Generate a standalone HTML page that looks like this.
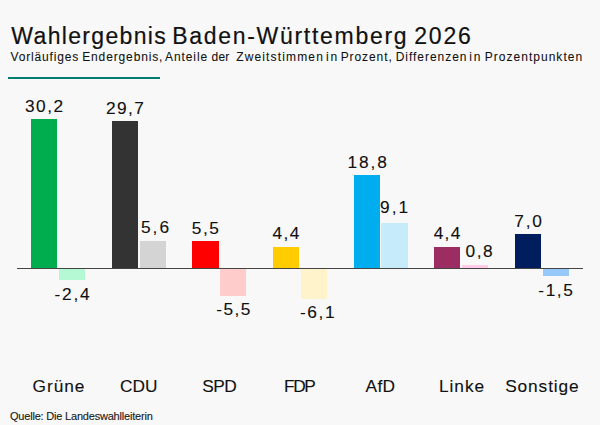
<!DOCTYPE html>
<html><head><meta charset="utf-8"><style>
html,body{margin:0;padding:0;}
body{width:600px;height:425px;background:#f8f8f8;position:relative;overflow:hidden;font-family:"Liberation Sans",sans-serif;color:#111;-webkit-text-stroke:0.12px #111;}
.t{position:absolute;white-space:nowrap;line-height:1;}
.b{position:absolute;}
.v{position:absolute;width:100px;text-align:center;font-size:17.3px;letter-spacing:1.35px;text-indent:1.35px;line-height:1;white-space:nowrap;}
.n{position:absolute;width:120px;text-align:center;font-size:17.3px;letter-spacing:0.7px;text-indent:0.7px;line-height:1;white-space:nowrap;}
.ti{top:24.77px;font-size:23px;-webkit-text-stroke:0.2px #111;}
.su{top:51.06px;font-size:12px;-webkit-text-stroke:0.08px #111;}
#src{left:10px;top:410.70px;font-size:11px;letter-spacing:-0.2px;color:#222;}
#rule{position:absolute;left:8px;top:77px;width:152px;height:2px;background:#007d70;}
#axis{position:absolute;left:17px;top:268px;width:565.5px;height:1px;background:#444;}
</style></head><body>
<div class="t ti" style="left:11.35px;letter-spacing:1.332px">Wahlergebnis</div>
<div class="t ti" style="left:172.20px;letter-spacing:1.706px">Baden-Württemberg</div>
<div class="t ti" style="left:414.25px;letter-spacing:1.833px">2026</div>
<div class="t su" style="left:10.50px;letter-spacing:0.840px">Vorläufiges</div>
<div class="t su" style="left:82.20px;letter-spacing:0.868px">Endergebnis,</div>
<div class="t su" style="left:165.00px;letter-spacing:0.908px">Anteile</div>
<div class="t su" style="left:211.60px;letter-spacing:0.175px">der</div>
<div class="t su" style="left:236.20px;letter-spacing:1.150px">Zweitstimmen</div>
<div class="t su" style="left:326.05px;letter-spacing:1.700px">in</div>
<div class="t su" style="left:340.70px;letter-spacing:0.907px">Prozent,</div>
<div class="t su" style="left:395.70px;letter-spacing:0.960px">Differenzen</div>
<div class="t su" style="left:469.25px;letter-spacing:1.850px">in</div>
<div class="t su" style="left:484.80px;letter-spacing:1.019px">Prozentpunkten</div>
<div id="rule"></div>
<div class="b" style="left:31.20px;top:118.71px;width:26.3px;height:149.79px;background:#00ad4e"></div>
<div class="b" style="left:59.00px;top:269.00px;width:26.3px;height:11.40px;background:#b4f8d4"></div>
<div class="v" style="left:-6.00px;top:97.58px;letter-spacing:1.483px;text-indent:1.483px">30,2</div>
<div class="v" style="left:22.10px;top:286.28px;letter-spacing:1.750px;text-indent:1.750px">-2,4</div>
<div class="n" style="left:-1.50px;top:377.88px;letter-spacing:0.94px;text-indent:0.94px">Grüne</div>
<div class="b" style="left:111.80px;top:121.19px;width:26.3px;height:147.31px;background:#333333"></div>
<div class="b" style="left:139.60px;top:240.72px;width:26.3px;height:27.78px;background:#d4d4d4"></div>
<div class="v" style="left:74.90px;top:99.98px;letter-spacing:1.383px;text-indent:1.383px">29,7</div>
<div class="v" style="left:105.00px;top:219.28px;letter-spacing:2.000px;text-indent:2.000px">5,6</div>
<div class="n" style="left:78.75px;top:377.88px;letter-spacing:0.0px;text-indent:0.0px">CDU</div>
<div class="b" style="left:192.40px;top:241.22px;width:26.3px;height:27.28px;background:#ff0000"></div>
<div class="b" style="left:220.20px;top:269.00px;width:26.3px;height:26.78px;background:#ffcccc"></div>
<div class="v" style="left:155.30px;top:219.53px;letter-spacing:1.450px;text-indent:1.450px">5,5</div>
<div class="v" style="left:183.30px;top:301.18px;letter-spacing:1.450px;text-indent:1.450px">-5,5</div>
<div class="n" style="left:159.45px;top:377.88px;letter-spacing:-0.45px;text-indent:-0.45px">SPD</div>
<div class="b" style="left:273.00px;top:246.68px;width:26.3px;height:21.82px;background:#ffcc00"></div>
<div class="b" style="left:300.80px;top:269.00px;width:26.3px;height:29.76px;background:#fff3cc"></div>
<div class="v" style="left:236.00px;top:225.38px;letter-spacing:1.400px;text-indent:1.400px">4,4</div>
<div class="v" style="left:267.30px;top:304.48px;letter-spacing:1.683px;text-indent:1.683px">-6,1</div>
<div class="n" style="left:239.90px;top:377.88px;letter-spacing:-1.3px;text-indent:-1.3px">FDP</div>
<div class="b" style="left:353.60px;top:175.25px;width:26.3px;height:93.25px;background:#00adef"></div>
<div class="b" style="left:381.40px;top:223.36px;width:26.3px;height:45.14px;background:#c6ecfc"></div>
<div class="v" style="left:317.10px;top:153.68px;letter-spacing:1.900px;text-indent:1.900px">18,8</div>
<div class="v" style="left:344.10px;top:198.78px;letter-spacing:2.050px;text-indent:2.050px">9,1</div>
<div class="n" style="left:320.30px;top:377.88px;letter-spacing:0.4px;text-indent:0.4px">AfD</div>
<div class="b" style="left:434.20px;top:246.68px;width:26.3px;height:21.82px;background:#9b2d62"></div>
<div class="b" style="left:462.00px;top:264.53px;width:26.3px;height:3.97px;background:#ffcce8"></div>
<div class="v" style="left:397.00px;top:225.38px;letter-spacing:1.350px;text-indent:1.350px">4,4</div>
<div class="v" style="left:429.10px;top:243.03px;letter-spacing:1.475px;text-indent:1.475px">0,8</div>
<div class="n" style="left:401.55px;top:377.88px;letter-spacing:1.0px;text-indent:1.0px">Linke</div>
<div class="b" style="left:514.80px;top:233.78px;width:26.3px;height:34.72px;background:#001e5e"></div>
<div class="b" style="left:542.60px;top:269.00px;width:26.3px;height:6.94px;background:#96c8fa"></div>
<div class="v" style="left:478.10px;top:212.58px;letter-spacing:1.800px;text-indent:1.800px">7,0</div>
<div class="v" style="left:505.60px;top:281.58px;letter-spacing:1.600px;text-indent:1.600px">-1,5</div>
<div class="n" style="left:481.95px;top:377.88px;letter-spacing:0.9px;text-indent:0.9px">Sonstige</div>
<div id="axis"></div>
<div class="t" id="src">Quelle: Die Landeswahlleiterin</div>
</body></html>
